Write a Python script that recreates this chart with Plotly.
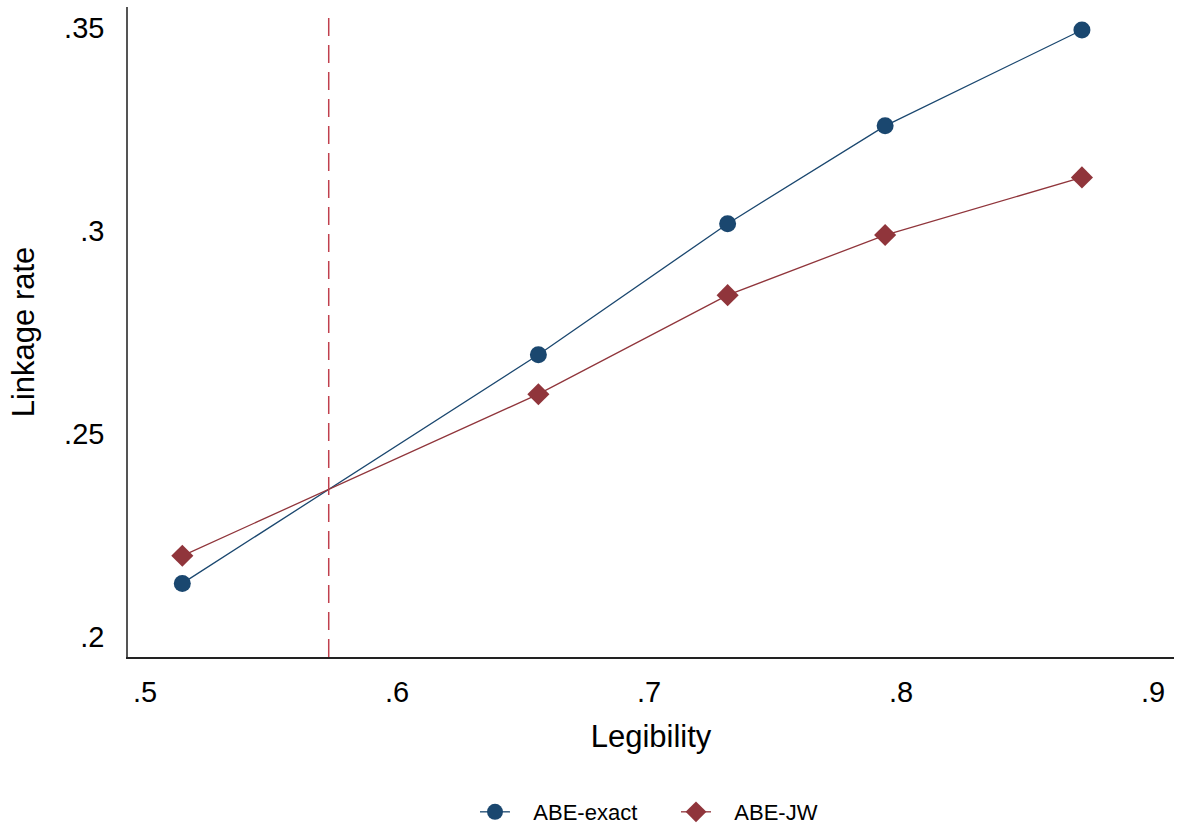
import plotly.graph_objects as go

legibility = [0.5148, 0.6561, 0.7312, 0.7937, 0.8718]
abe_exact = [0.2132, 0.2695, 0.3018, 0.3259, 0.3495]
abe_jw = [0.2200, 0.2598, 0.2842, 0.2990, 0.3132]
cutoff_x = 0.5729

x_ticks = [0.5, 0.6, 0.7, 0.8, 0.9]
x_tick_labels = [".5", ".6", ".7", ".8", ".9"]
y_ticks = [0.2, 0.25, 0.3, 0.35]
y_tick_labels = [".2", ".25", ".3", ".35"]

BLUE = "#1a476f"
RED = "#90353b"
FONT = "Liberation Sans, Arial, sans-serif"
PAD = "\u00a0\u00a0\u00a0"

fig = go.Figure()
fig.add_trace(go.Scatter(
    x=legibility, y=abe_exact, name=PAD + "ABE-exact", mode="lines+markers",
    line=dict(color=BLUE, width=1.3),
    marker=dict(symbol="circle", size=17, color=BLUE),
))
fig.add_trace(go.Scatter(
    x=legibility, y=abe_jw, name=PAD + "ABE-JW", mode="lines+markers",
    line=dict(color=RED, width=1.3),
    marker=dict(symbol="diamond", size=17, color=RED),
))

fig.add_shape(type="line", xref="x", yref="y",
              x0=cutoff_x, x1=cutoff_x, y0=0.19507, y1=0.3537,
              line=dict(color="#c0404e", width=1.5, dash="18px,9px"))

fig.update_layout(
    width=1178, height=828,
    margin=dict(l=128, r=4, t=7, b=171, autoexpand=False),
    paper_bgcolor="white", plot_bgcolor="white",
    font=dict(family=FONT, color="black"),
    showlegend=True,
    legend=dict(orientation="h", x=0.5239, xanchor="center", y=-0.2385,
                yanchor="middle", font=dict(size=22), itemwidth=30,
                entrywidth=156, traceorder="normal"),
)
fig.update_xaxes(
    range=[0.49325, 0.90833], tickvals=x_ticks, ticktext=x_tick_labels,
    showgrid=False, zeroline=False, showline=True, linecolor="#222", linewidth=1.5,
    ticks="outside", ticklen=8, tickcolor="rgba(0,0,0,0)",
    tickfont=dict(size=29), automargin=False,
    title=dict(text="Legibility", font=dict(size=31), standoff=19),
)
fig.update_yaxes(
    range=[0.19507, 0.35517], tickvals=y_ticks, ticktext=y_tick_labels,
    showgrid=False, zeroline=False, showline=True, linecolor="#555", linewidth=1.5,
    ticks="outside", ticklen=16, tickcolor="rgba(0,0,0,0)",
    tickfont=dict(size=29), automargin=False,
    title=dict(text="Linkage rate", font=dict(size=31), standoff=20),
)

fig.write_html("out.html")
